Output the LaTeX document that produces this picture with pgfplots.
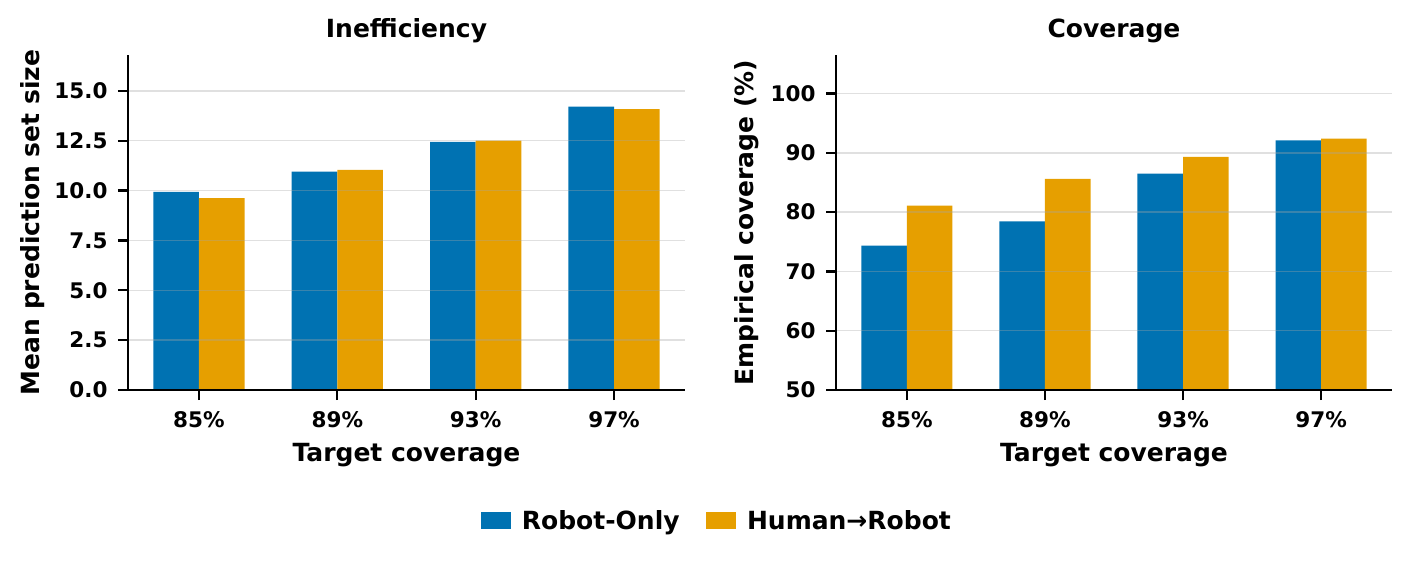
\documentclass[border=0pt]{standalone}
\usepackage{fontspec}
\setmainfont{DejaVu Sans}
\usepackage{pgfplots}
\pgfplotsset{compat=1.18}

\definecolor{cbblue}{HTML}{0072B2}
\definecolor{cborange}{HTML}{E69F00}

\newcommand{\tickfont}{\fontsize{21.5}{25}\selectfont\bfseries}
\newcommand{\labelfont}{\fontsize{25}{29}\selectfont\bfseries}
\newcommand{\titlefont}{\fontsize{25}{29}\selectfont\bfseries}

\pgfplotsset{
  panel/.style={
    scale only axis,
    height=335pt,
    anchor=south west,
    axis x line*=bottom,
    axis y line*=left,
    axis line style={-, line width=2.2pt, black},
    tick align=outside,
    major tick length=10pt,
    tick style={line width=2.2pt, black},
    xtick={0,1,2,3},
    xticklabels={85\%,89\%,93\%,97\%},
    xmin=-0.513, xmax=3.513,
    ymajorgrids,
    grid style={line width=1.5pt, gray!70, opacity=0.35},
    axis on top,
    ybar,
    bar width=0.33,
    /pgf/number format/assume math mode=true,
    ticklabel style={font=\tickfont},
    xticklabel style={anchor=base, yshift=-27pt},
    yticklabel style={anchor=east, xshift=-7pt},
    xlabel style={font=\labelfont, at={(axis description cs:0.5,0)}, anchor=base, yshift=-71.7pt},
    ylabel style={font=\labelfont, at={(axis description cs:0,0.5)}, anchor=base},
    title style={font=\titlefont, at={(axis description cs:0.5,1)}, anchor=base, yshift=11pt},
  },
}

\begin{document}
\begin{tikzpicture}
% left panel: mean prediction set size
\begin{axis}[
  panel,
  at={(128pt,175pt)},
  width=557pt,
  ymin=0, ymax=16.8,
  ytick={0,2.5,...,15},
  yticklabel style={/pgf/number format/.cd, fixed, fixed zerofill, precision=1},
  ylabel style={yshift=88pt},
  title={Inefficiency},
  xlabel={Target coverage},
  ylabel={Mean prediction set size},
  legend columns=2,
  legend image code/.code={\fill[#1] (0pt,-8.5pt) rectangle (30pt,8.5pt);},
  legend style={
    at={(1.0557,-0.391)}, anchor=center, draw=none, fill=none,
    font=\titlefont,
    nodes={inner xsep=0pt},
    /tikz/every odd column/.append style={column sep=10.7pt},
    /tikz/every even column/.append style={column sep=26.7pt},
  },
]
\addplot[fill=cbblue, draw=none, bar shift=-0.165]
  coordinates {(0,9.93) (1,10.95) (2,12.44) (3,14.21)};
\addplot[fill=cborange, draw=none, bar shift=0.165]
  coordinates {(0,9.62) (1,11.04) (2,12.51) (3,14.08)};
\legend{Robot-Only, Human→Robot}
\end{axis}

% right panel: empirical coverage
\begin{axis}[
  panel,
  at={(836pt,175pt)},
  width=556pt,
  ymin=50, ymax=106.5,
  ytick={50,60,...,100},
  ylabel style={yshift=83pt},
  title={Coverage},
  xlabel={Target coverage},
  ylabel={Empirical coverage (\%)},
]
\addplot[fill=cbblue, draw=none, bar shift=-0.165]
  coordinates {(0,74.35) (1,78.45) (2,86.5) (3,92.1)};
\addplot[fill=cborange, draw=none, bar shift=0.165]
  coordinates {(0,81.1) (1,85.6) (2,89.3) (3,92.4)};
\end{axis}

\pgfresetboundingbox
\useasboundingbox (0,0) rectangle (1412pt,565pt);
\end{tikzpicture}
\end{document}
